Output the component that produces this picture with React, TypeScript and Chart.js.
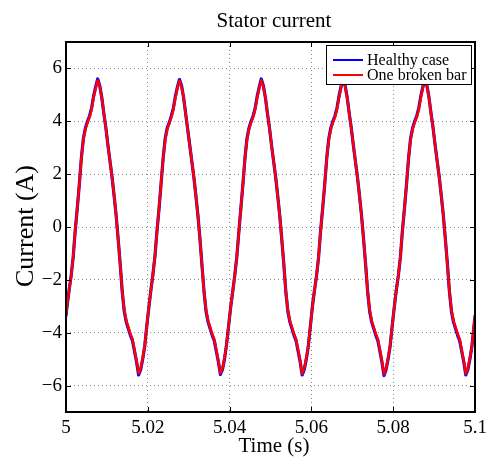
import React, { useEffect, useRef } from "react";
import { Chart, registerables } from "chart.js";

Chart.register(...registerables);

const titleText = "Stator current";
const xTitle = "Time (s)";
const yTitle = "Current (A)";
const seriesNames = ["Healthy case", "One broken bar"];
const seriesColors = ["#0000ff", "#ff0000"];

const xMin = 5;
const xMax = 5.1;
const yMin = -7;
const yMax = 7;
const xTicks = [5, 5.02, 5.04, 5.06, 5.08, 5.1];
const xTickLabels = ["5", "5.02", "5.04", "5.06", "5.08", "5.1"];
const yTicks = [-6, -4, -2, 0, 2, 4, 6];
const yTickLabels = ["\u22126", "\u22124", "\u22122", "0", "2", "4", "6"];

// sample times: 5 s, then every 0.5 ms from 5.00025 s to 5.09975 s, then 5.1 s
const sampleTimes = [
  5,
  ...Array.from({ length: 200 }, (_, i) => 5 + (0.25 + 0.5 * i) / 1000),
  5.1,
];

// Healthy case current (A)
const healthy = [
  -3.35,
  -3.0, -2.4, -1.85, -1.15, -0.15, 0.7, 1.6, 2.6, 3.35, 3.75, 4.0, 4.2, 4.5, 4.95, 5.3, 5.6, 5.35, 4.9, 4.3, 3.75,
  3.1, 2.5, 1.9, 1.2, 0.45, -0.45, -1.4, -2.45, -3.2, -3.6, -3.85, -4.1, -4.3, -4.7, -5.1, -5.6, -5.4, -5.0, -4.5, -3.75,
  -3.05, -2.4, -1.8, -1.1, -0.15, 0.7, 1.65, 2.6, 3.35, 3.75, 3.95, 4.2, 4.5, 4.95, 5.3, 5.58, 5.35, 4.9, 4.3, 3.7,
  3.1, 2.5, 1.9, 1.2, 0.45, -0.45, -1.45, -2.45, -3.2, -3.6, -3.85, -4.1, -4.3, -4.7, -5.1, -5.58, -5.4, -5.0, -4.45, -3.75,
  -3.05, -2.45, -1.85, -1.15, -0.2, 0.7, 1.6, 2.6, 3.35, 3.75, 4.0, 4.2, 4.5, 4.95, 5.3, 5.6, 5.35, 4.9, 4.3, 3.75,
  3.1, 2.5, 1.9, 1.2, 0.45, -0.45, -1.4, -2.45, -3.2, -3.6, -3.85, -4.1, -4.3, -4.7, -5.1, -5.6, -5.4, -5.0, -4.5, -3.75,
  -3.0, -2.4, -1.85, -1.15, -0.15, 0.7, 1.6, 2.6, 3.35, 3.75, 4.0, 4.2, 4.5, 4.95, 5.32, 5.62, 5.35, 4.9, 4.3, 3.75,
  3.1, 2.5, 1.9, 1.2, 0.45, -0.45, -1.4, -2.45, -3.2, -3.6, -3.85, -4.1, -4.3, -4.7, -5.12, -5.62, -5.4, -5.0, -4.5, -3.75,
  -3.05, -2.4, -1.85, -1.15, -0.15, 0.7, 1.6, 2.6, 3.35, 3.75, 4.0, 4.2, 4.5, 4.95, 5.3, 5.6, 5.35, 4.9, 4.3, 3.75,
  3.1, 2.5, 1.9, 1.2, 0.45, -0.45, -1.4, -2.45, -3.2, -3.6, -3.85, -4.1, -4.3, -4.7, -5.1, -5.6, -5.4, -5.0, -4.5, -3.75,
  -3.38,
];

// One broken bar current (A)
const brokenBar = [
  -3.35,
  -3.0, -2.4, -1.85, -1.15, -0.15, 0.7, 1.6, 2.6, 3.3, 3.7, 3.95, 4.15, 4.45, 4.9, 5.26, 5.54, 5.32, 4.9, 4.3, 3.75,
  3.1, 2.5, 1.9, 1.2, 0.45, -0.45, -1.4, -2.45, -3.15, -3.55, -3.8, -4.05, -4.25, -4.65, -5.06, -5.54, -5.35, -4.97, -4.5, -3.75,
  -3.05, -2.4, -1.8, -1.1, -0.15, 0.7, 1.65, 2.6, 3.3, 3.7, 3.92, 4.15, 4.45, 4.9, 5.26, 5.53, 5.32, 4.9, 4.3, 3.7,
  3.1, 2.5, 1.9, 1.2, 0.45, -0.45, -1.45, -2.45, -3.15, -3.55, -3.8, -4.05, -4.25, -4.65, -5.06, -5.53, -5.35, -4.97, -4.45, -3.75,
  -3.05, -2.45, -1.85, -1.15, -0.2, 0.7, 1.6, 2.6, 3.3, 3.7, 3.95, 4.15, 4.45, 4.9, 5.26, 5.55, 5.32, 4.9, 4.3, 3.75,
  3.1, 2.5, 1.9, 1.2, 0.45, -0.45, -1.4, -2.45, -3.15, -3.55, -3.8, -4.05, -4.25, -4.65, -5.06, -5.55, -5.35, -4.97, -4.5, -3.75,
  -3.0, -2.4, -1.85, -1.15, -0.15, 0.7, 1.6, 2.6, 3.3, 3.7, 3.95, 4.15, 4.45, 4.9, 5.28, 5.57, 5.32, 4.9, 4.3, 3.75,
  3.1, 2.5, 1.9, 1.2, 0.45, -0.45, -1.4, -2.45, -3.15, -3.55, -3.8, -4.05, -4.25, -4.65, -5.08, -5.57, -5.35, -4.97, -4.5, -3.75,
  -3.05, -2.4, -1.85, -1.15, -0.15, 0.7, 1.6, 2.6, 3.3, 3.7, 3.95, 4.15, 4.45, 4.9, 5.26, 5.55, 5.32, 4.9, 4.3, 3.75,
  3.1, 2.5, 1.9, 1.2, 0.45, -0.45, -1.4, -2.45, -3.15, -3.55, -3.8, -4.05, -4.25, -4.65, -5.06, -5.55, -5.35, -4.97, -4.5, -3.75,
  -3.38,
];

const SERIF = '"Liberation Serif", "Times New Roman", Times, serif';

const matlabDecor = {
  id: "matlabDecor",
  afterDraw(chart: any) {
    const { ctx, chartArea: a, scales } = chart;
    ctx.save();
    // ticks pointing inward
    ctx.strokeStyle = "#000";
    ctx.lineWidth = 1;
    ctx.setLineDash([]);
    ctx.beginPath();
    xTicks.forEach((v) => {
      const px = Math.round(scales.x.getPixelForValue(v)) + 0.5;
      ctx.moveTo(px, a.bottom);
      ctx.lineTo(px, a.bottom - 5);
      ctx.moveTo(px, a.top);
      ctx.lineTo(px, a.top + 5);
    });
    yTicks.forEach((v) => {
      const py = Math.round(scales.y.getPixelForValue(v)) + 0.5;
      ctx.moveTo(a.left, py);
      ctx.lineTo(a.left + 5, py);
      ctx.moveTo(a.right, py);
      ctx.lineTo(a.right - 5, py);
    });
    ctx.stroke();

    // frame
    ctx.lineWidth = 2;
    ctx.strokeRect(a.left, a.top, a.right - a.left, a.bottom - a.top);

    // legend
    const lx = 326.5, ly = 45.5, lw = 145, lh = 39;
    ctx.fillStyle = "#fff";
    ctx.fillRect(lx, ly, lw, lh);
    ctx.lineWidth = 1;
    ctx.strokeStyle = "#000";
    ctx.strokeRect(lx, ly, lw, lh);
    const rows = [60, 75];
    ctx.font = `16px ${SERIF}`;
    ctx.textAlign = "left";
    ctx.textBaseline = "alphabetic";
    seriesNames.forEach((name, i) => {
      ctx.strokeStyle = seriesColors[i];
      ctx.lineWidth = 2;
      ctx.beginPath();
      ctx.moveTo(333, rows[i]);
      ctx.lineTo(363, rows[i]);
      ctx.stroke();
      ctx.fillStyle = "#000";
      ctx.fillText(name, 367, rows[i] + 5);
    });

    // titles
    ctx.fillStyle = "#000";
    ctx.textAlign = "center";
    ctx.textBaseline = "alphabetic";
    ctx.font = `21px ${SERIF}`;
    ctx.fillText(titleText, 274, 27);
    ctx.fillText(xTitle, 274, 452);
    ctx.save();
    ctx.translate(33, 226);
    ctx.rotate(-Math.PI / 2);
    ctx.font = `26px ${SERIF}`;
    ctx.fillText(yTitle, 0, 0);
    ctx.restore();

    ctx.restore();
  },
};

export default function App() {
  const canvasRef = useRef<HTMLCanvasElement | null>(null);

  useEffect(() => {
    document.body.style.margin = "0";
    const canvas = canvasRef.current;
    if (!canvas) return;
    const makePoints = (vals: number[]) => sampleTimes.map((t, i) => ({ x: t, y: vals[i] }));
    const chart = new Chart(canvas, {
      type: "line",
      data: {
        datasets: [
          {
            label: seriesNames[0],
            data: makePoints(healthy),
            borderColor: seriesColors[0],
            backgroundColor: seriesColors[0],
            borderWidth: 3.2,
            pointRadius: 0,
            tension: 0,
            borderJoinStyle: "round",
            borderCapStyle: "round",
            order: 2,
          },
          {
            label: seriesNames[1],
            data: makePoints(brokenBar),
            borderColor: seriesColors[1],
            backgroundColor: seriesColors[1],
            borderWidth: 2.6,
            pointRadius: 0,
            tension: 0,
            borderJoinStyle: "round",
            borderCapStyle: "round",
            order: 1,
          },
        ],
      },
      options: {
        responsive: false,
        animation: false,
        devicePixelRatio: 1,
        layout: { padding: { top: 42, left: 0, right: 12, bottom: 0 } },
        plugins: {
          legend: { display: false },
          title: { display: false },
          tooltip: { enabled: false },
        },
        scales: {
          x: {
            type: "linear",
            min: xMin,
            max: xMax,
            afterBuildTicks: (scale: any) => {
              scale.ticks = xTicks.map((v) => ({ value: v }));
            },
            afterFit: (scale: any) => {
              scale.height = 48;
              scale.paddingLeft = 0;
              scale.paddingRight = 0;
            },
            ticks: {
              autoSkip: false,
              maxRotation: 0,
              padding: 5,
              color: "#000",
              font: { family: SERIF, size: 19 },
              callback: (_v: any, i: number) => xTickLabels[i],
            },
            grid: { color: "#8a8a8a", lineWidth: 1, drawTicks: false },
            border: { display: false, dash: [1, 3] },
          },
          y: {
            type: "linear",
            min: yMin,
            max: yMax,
            afterBuildTicks: (scale: any) => {
              scale.ticks = yTicks.map((v) => ({ value: v }));
            },
            afterFit: (scale: any) => {
              scale.width = 66;
              scale.paddingTop = 0;
              scale.paddingBottom = 0;
            },
            ticks: {
              autoSkip: false,
              padding: 4,
              color: "#000",
              font: { family: SERIF, size: 19 },
              callback: (_v: any, i: number) => yTickLabels[i],
            },
            grid: { color: "#8a8a8a", lineWidth: 1, drawTicks: false },
            border: { display: false, dash: [1, 3] },
          },
        },
      },
      plugins: [matlabDecor],
    });
    return () => chart.destroy();
  }, []);

  return (
    <div style={{ width: 487, height: 460 }}>
      <canvas ref={canvasRef} width={487} height={460} style={{ display: "block", width: 487, height: 460 }} />
    </div>
  );
}
